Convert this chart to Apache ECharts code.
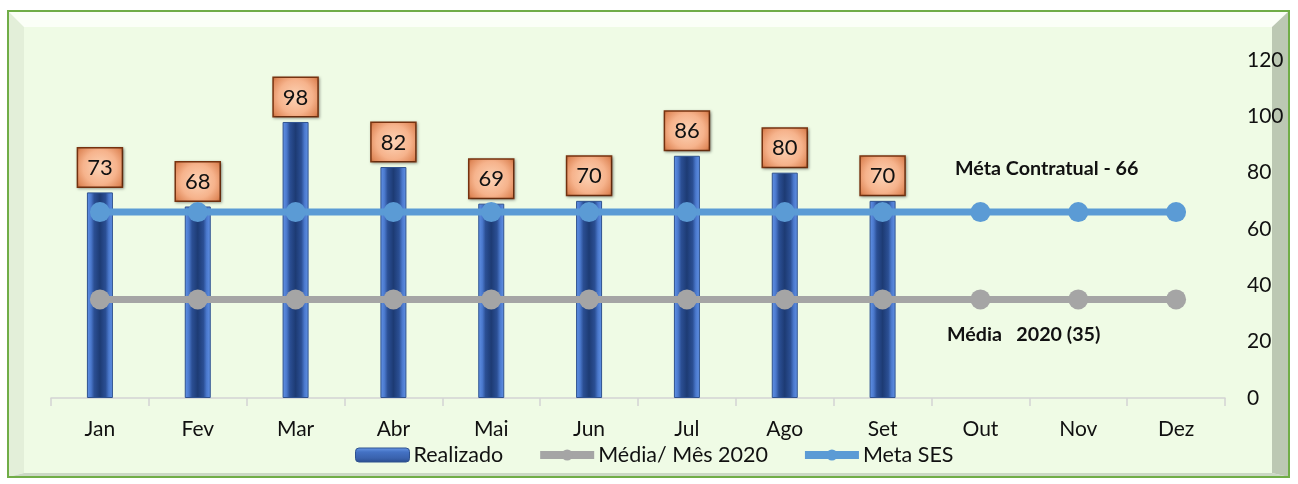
<!DOCTYPE html>
<html><head><meta charset="utf-8">
<script src="https://cdn.jsdelivr.net/npm/echarts@6/dist/echarts.min.js"></script>
<style>html,body{margin:0;padding:0;background:#fff}#c{width:1298px;height:484px}</style>
</head><body><div id="c"></div>
<script>
const categories = ['Jan','Fev','Mar','Abr','Mai','Jun','Jul','Ago','Set','Out','Nov','Dez'];
const realizado = [73,68,98,82,69,70,86,80,70,null,null,null];
const mediaMes = [35,35,35,35,35,35,35,35,35,35,35,35];
const metaSES = [66,66,66,66,66,66,66,66,66,66,66,66];
const yMin = 0, yMax = 120, yInterval = 20;
const seriesNames = ['Realizado','Média/ Mês 2020','Meta SES'];
const notes = ['Méta Contratual - 66','Média   2020 (35)'];

const FONT = 'Lato';
const chart = echarts.init(document.getElementById('c'), null, {renderer:'canvas'});

const x0=8,y0=11,x1=1289,y1=477, ix0=24, iy0=27, ix1=1272, iy1=473;
const barGrad = new echarts.graphic.LinearGradient(0,0,1,0,[
  {offset:0,color:'#6394e8'},{offset:0.16,color:'#4a78cc'},{offset:0.28,color:'#2b4f94'},
  {offset:0.5,color:'#1d3b74'},{offset:0.72,color:'#2b4f94'},{offset:0.84,color:'#4a78cc'},{offset:1,color:'#6394e8'}]);
const legendBarGrad = new echarts.graphic.LinearGradient(0,0,0,1,[
  {offset:0,color:'#6b9be8'},{offset:0.3,color:'#4472c4'},{offset:0.7,color:'#3a63ae'},{offset:1,color:'#2a4d8f'}]);
const labelGrad = new echarts.graphic.RadialGradient(0.5,0.5,0.75,[
  {offset:0,color:'#fcd3b6'},{offset:0.55,color:'#f6b38c'},{offset:0.85,color:'#e0895a'},{offset:1,color:'#b65e2e'}]);

chart.setOption({
  backgroundColor:'#ffffff',
  animation:false,
  graphic:{elements:[
    {type:'polygon',z:-10,shape:{points:[[x0,y0],[x1,y0],[ix1,iy0],[ix0,iy0]]},style:{fill:'#fbfff7'}},
    {type:'polygon',z:-10,shape:{points:[[x0,y0],[ix0,iy0],[ix0,iy1],[x0,y1]]},style:{fill:'#e3efd9'}},
    {type:'polygon',z:-10,shape:{points:[[x0,y1],[ix0,iy1],[ix1,iy1],[x1,y1]]},style:{fill:'#cbd8c4'}},
    {type:'polygon',z:-10,shape:{points:[[x1,y0],[ix1,iy0],[ix1,iy1],[x1,y1]]},style:{fill:'#bcc8b3'}},
    {type:'rect',z:-10,shape:{x:ix0,y:iy0,width:ix1-ix0,height:iy1-iy0},style:{fill:'#effbe5'}},
    {type:'rect',z:-9,shape:{x:x0,y:y0,width:x1-x0,height:y1-y0},style:{fill:'none',stroke:'#70ad47',lineWidth:2}},
    {type:'text',z:100,left:955,top:159,style:{text:notes[0],font:'bold 19.7px '+FONT,fill:'#111'}},
    {type:'text',z:100,left:947,top:325,style:{text:notes[1],font:'bold 19.7px '+FONT,fill:'#111'}}
  ]},
  grid:{left:51,right:73,top:60,bottom:86,containLabel:false},
  legend:{
    left:350, top:439, itemGap:33, itemWidth:54, itemHeight:14,
    textStyle:{fontFamily:FONT,fontSize:21.5,color:'#111',padding:[0,0,0,-1]},
    data:[
      {name:seriesNames[0],itemStyle:{color:legendBarGrad,borderColor:'#2f528f',borderWidth:1}},
      {name:seriesNames[1],lineStyle:{width:8,color:'#a5a5a5'}},
      {name:seriesNames[2],lineStyle:{width:8,color:'#5b9bd5'}}
    ]
  },
  xAxis:{
    type:'category', data:categories, boundaryGap:true,
    axisLine:{lineStyle:{color:'#d4d4d4',width:1.5}},
    axisTick:{show:true,length:8,lineStyle:{color:'#d4d4d4',width:1.5}},
    axisLabel:{fontFamily:FONT,fontSize:21,color:'#111',margin:21}
  },
  yAxis:{
    type:'value', position:'right', min:yMin, max:yMax, interval:yInterval,
    axisLine:{show:false}, axisTick:{show:false}, splitLine:{show:false},
    axisLabel:{fontFamily:FONT,fontSize:21,color:'#111',margin:22}
  },
  series:[
    {name:seriesNames[0],type:'bar',data:realizado,barWidth:26,z:2,
     itemStyle:{color:barGrad,borderColor:'#2f528f',borderWidth:1},
     label:{show:true,position:'top',distance:6,fontFamily:FONT,fontSize:22,color:'#111',
       backgroundColor:labelGrad,borderColor:'#7a3410',borderWidth:1.5,padding:[6,9,5,9],lineHeight:27,
       shadowColor:'rgba(0,0,0,0.35)',shadowBlur:3,shadowOffsetX:1,shadowOffsetY:1}},
    {name:seriesNames[1],type:'line',data:mediaMes,z:3,symbol:'circle',symbolSize:20,
     lineStyle:{color:'#a5a5a5',width:7},itemStyle:{color:'#a5a5a5'}},
    {name:seriesNames[2],type:'line',data:metaSES,z:4,symbol:'circle',symbolSize:20,
     lineStyle:{color:'#5b9bd5',width:7},itemStyle:{color:'#5b9bd5'}}
  ]
});
</script></body></html>
